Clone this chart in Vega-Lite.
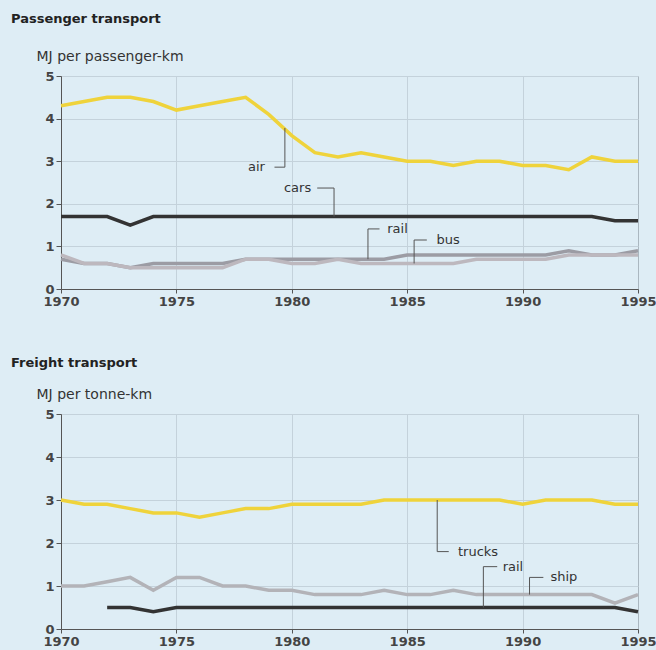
{
  "$schema": "https://vega.github.io/schema/vega-lite/v6.json",
  "background": "#deedf5",
  "padding": {"left": 10, "top": 12, "right": 5, "bottom": 5},
  "config": {
    "font": "DejaVu Sans",
    "view": {"stroke": "#aab7c0", "strokeWidth": 1},
    "axis": {
      "labelFont": "DejaVu Sans",
      "labelFontSize": 13,
      "labelFontWeight": "bold",
      "labelColor": "#444444",
      "labelFlush": false,
      "domainColor": "#555555",
      "tickColor": "#555555",
      "gridColor": "#c4d2db",
      "titleFont": "DejaVu Sans",
      "titleFontSize": 14,
      "titleFontWeight": "normal",
      "titleColor": "#333333"
    },
    "title": {"font": "DejaVu Sans", "fontSize": 13, "fontWeight": "bold", "color": "#222222", "anchor": "start"}
  },
  "resolve": {"scale": {"color": "independent"}},
  "spacing": 47,
  "datasets": {
    "years": [
      {"year":1971},{"year":1972},{"year":1973},{"year":1974},{"year":1976},{"year":1977},{"year":1978},{"year":1979},{"year":1981},{"year":1982},{"year":1983},{"year":1984},{"year":1986},{"year":1987},{"year":1988},{"year":1989},{"year":1991},{"year":1992},{"year":1993},{"year":1994}
    ],
    "passenger": [
      {"year":1970,"mode":"air","value":4.3},{"year":1971,"mode":"air","value":4.4},{"year":1972,"mode":"air","value":4.5},{"year":1973,"mode":"air","value":4.5},{"year":1974,"mode":"air","value":4.4},{"year":1975,"mode":"air","value":4.2},{"year":1976,"mode":"air","value":4.3},{"year":1977,"mode":"air","value":4.4},{"year":1978,"mode":"air","value":4.5},{"year":1979,"mode":"air","value":4.1},{"year":1980,"mode":"air","value":3.6},{"year":1981,"mode":"air","value":3.2},{"year":1982,"mode":"air","value":3.1},{"year":1983,"mode":"air","value":3.2},{"year":1984,"mode":"air","value":3.1},{"year":1985,"mode":"air","value":3.0},{"year":1986,"mode":"air","value":3.0},{"year":1987,"mode":"air","value":2.9},{"year":1988,"mode":"air","value":3.0},{"year":1989,"mode":"air","value":3.0},{"year":1990,"mode":"air","value":2.9},{"year":1991,"mode":"air","value":2.9},{"year":1992,"mode":"air","value":2.8},{"year":1993,"mode":"air","value":3.1},{"year":1994,"mode":"air","value":3.0},{"year":1995,"mode":"air","value":3.0},
      {"year":1970,"mode":"cars","value":1.7},{"year":1971,"mode":"cars","value":1.7},{"year":1972,"mode":"cars","value":1.7},{"year":1973,"mode":"cars","value":1.5},{"year":1974,"mode":"cars","value":1.7},{"year":1975,"mode":"cars","value":1.7},{"year":1976,"mode":"cars","value":1.7},{"year":1977,"mode":"cars","value":1.7},{"year":1978,"mode":"cars","value":1.7},{"year":1979,"mode":"cars","value":1.7},{"year":1980,"mode":"cars","value":1.7},{"year":1981,"mode":"cars","value":1.7},{"year":1982,"mode":"cars","value":1.7},{"year":1983,"mode":"cars","value":1.7},{"year":1984,"mode":"cars","value":1.7},{"year":1985,"mode":"cars","value":1.7},{"year":1986,"mode":"cars","value":1.7},{"year":1987,"mode":"cars","value":1.7},{"year":1988,"mode":"cars","value":1.7},{"year":1989,"mode":"cars","value":1.7},{"year":1990,"mode":"cars","value":1.7},{"year":1991,"mode":"cars","value":1.7},{"year":1992,"mode":"cars","value":1.7},{"year":1993,"mode":"cars","value":1.7},{"year":1994,"mode":"cars","value":1.6},{"year":1995,"mode":"cars","value":1.6},
      {"year":1970,"mode":"rail","value":0.7},{"year":1971,"mode":"rail","value":0.6},{"year":1972,"mode":"rail","value":0.6},{"year":1973,"mode":"rail","value":0.5},{"year":1974,"mode":"rail","value":0.6},{"year":1975,"mode":"rail","value":0.6},{"year":1976,"mode":"rail","value":0.6},{"year":1977,"mode":"rail","value":0.6},{"year":1978,"mode":"rail","value":0.7},{"year":1979,"mode":"rail","value":0.7},{"year":1980,"mode":"rail","value":0.7},{"year":1981,"mode":"rail","value":0.7},{"year":1982,"mode":"rail","value":0.7},{"year":1983,"mode":"rail","value":0.7},{"year":1984,"mode":"rail","value":0.7},{"year":1985,"mode":"rail","value":0.8},{"year":1986,"mode":"rail","value":0.8},{"year":1987,"mode":"rail","value":0.8},{"year":1988,"mode":"rail","value":0.8},{"year":1989,"mode":"rail","value":0.8},{"year":1990,"mode":"rail","value":0.8},{"year":1991,"mode":"rail","value":0.8},{"year":1992,"mode":"rail","value":0.9},{"year":1993,"mode":"rail","value":0.8},{"year":1994,"mode":"rail","value":0.8},{"year":1995,"mode":"rail","value":0.9},
      {"year":1970,"mode":"bus","value":0.8},{"year":1971,"mode":"bus","value":0.6},{"year":1972,"mode":"bus","value":0.6},{"year":1973,"mode":"bus","value":0.5},{"year":1974,"mode":"bus","value":0.5},{"year":1975,"mode":"bus","value":0.5},{"year":1976,"mode":"bus","value":0.5},{"year":1977,"mode":"bus","value":0.5},{"year":1978,"mode":"bus","value":0.7},{"year":1979,"mode":"bus","value":0.7},{"year":1980,"mode":"bus","value":0.6},{"year":1981,"mode":"bus","value":0.6},{"year":1982,"mode":"bus","value":0.7},{"year":1983,"mode":"bus","value":0.6},{"year":1984,"mode":"bus","value":0.6},{"year":1985,"mode":"bus","value":0.6},{"year":1986,"mode":"bus","value":0.6},{"year":1987,"mode":"bus","value":0.6},{"year":1988,"mode":"bus","value":0.7},{"year":1989,"mode":"bus","value":0.7},{"year":1990,"mode":"bus","value":0.7},{"year":1991,"mode":"bus","value":0.7},{"year":1992,"mode":"bus","value":0.8},{"year":1993,"mode":"bus","value":0.8},{"year":1994,"mode":"bus","value":0.8},{"year":1995,"mode":"bus","value":0.8}
    ],
    "freight": [
      {"year":1970,"mode":"trucks","value":3.0},{"year":1971,"mode":"trucks","value":2.9},{"year":1972,"mode":"trucks","value":2.9},{"year":1973,"mode":"trucks","value":2.8},{"year":1974,"mode":"trucks","value":2.7},{"year":1975,"mode":"trucks","value":2.7},{"year":1976,"mode":"trucks","value":2.6},{"year":1977,"mode":"trucks","value":2.7},{"year":1978,"mode":"trucks","value":2.8},{"year":1979,"mode":"trucks","value":2.8},{"year":1980,"mode":"trucks","value":2.9},{"year":1981,"mode":"trucks","value":2.9},{"year":1982,"mode":"trucks","value":2.9},{"year":1983,"mode":"trucks","value":2.9},{"year":1984,"mode":"trucks","value":3.0},{"year":1985,"mode":"trucks","value":3.0},{"year":1986,"mode":"trucks","value":3.0},{"year":1987,"mode":"trucks","value":3.0},{"year":1988,"mode":"trucks","value":3.0},{"year":1989,"mode":"trucks","value":3.0},{"year":1990,"mode":"trucks","value":2.9},{"year":1991,"mode":"trucks","value":3.0},{"year":1992,"mode":"trucks","value":3.0},{"year":1993,"mode":"trucks","value":3.0},{"year":1994,"mode":"trucks","value":2.9},{"year":1995,"mode":"trucks","value":2.9},
      {"year":1970,"mode":"ship","value":1.0},{"year":1971,"mode":"ship","value":1.0},{"year":1972,"mode":"ship","value":1.1},{"year":1973,"mode":"ship","value":1.2},{"year":1974,"mode":"ship","value":0.9},{"year":1975,"mode":"ship","value":1.2},{"year":1976,"mode":"ship","value":1.2},{"year":1977,"mode":"ship","value":1.0},{"year":1978,"mode":"ship","value":1.0},{"year":1979,"mode":"ship","value":0.9},{"year":1980,"mode":"ship","value":0.9},{"year":1981,"mode":"ship","value":0.8},{"year":1982,"mode":"ship","value":0.8},{"year":1983,"mode":"ship","value":0.8},{"year":1984,"mode":"ship","value":0.9},{"year":1985,"mode":"ship","value":0.8},{"year":1986,"mode":"ship","value":0.8},{"year":1987,"mode":"ship","value":0.9},{"year":1988,"mode":"ship","value":0.8},{"year":1989,"mode":"ship","value":0.8},{"year":1990,"mode":"ship","value":0.8},{"year":1991,"mode":"ship","value":0.8},{"year":1992,"mode":"ship","value":0.8},{"year":1993,"mode":"ship","value":0.8},{"year":1994,"mode":"ship","value":0.6},{"year":1995,"mode":"ship","value":0.8},
      {"year":1972,"mode":"rail","value":0.5},{"year":1973,"mode":"rail","value":0.5},{"year":1974,"mode":"rail","value":0.4},{"year":1975,"mode":"rail","value":0.5},{"year":1976,"mode":"rail","value":0.5},{"year":1977,"mode":"rail","value":0.5},{"year":1978,"mode":"rail","value":0.5},{"year":1979,"mode":"rail","value":0.5},{"year":1980,"mode":"rail","value":0.5},{"year":1981,"mode":"rail","value":0.5},{"year":1982,"mode":"rail","value":0.5},{"year":1983,"mode":"rail","value":0.5},{"year":1984,"mode":"rail","value":0.5},{"year":1985,"mode":"rail","value":0.5},{"year":1986,"mode":"rail","value":0.5},{"year":1987,"mode":"rail","value":0.5},{"year":1988,"mode":"rail","value":0.5},{"year":1989,"mode":"rail","value":0.5},{"year":1990,"mode":"rail","value":0.5},{"year":1991,"mode":"rail","value":0.5},{"year":1992,"mode":"rail","value":0.5},{"year":1993,"mode":"rail","value":0.5},{"year":1994,"mode":"rail","value":0.5},{"year":1995,"mode":"rail","value":0.4}
    ],
    "pLeaders": [
      {"year":1979.7,"value":3.78,"year2":1979.7,"value2":2.86},
      {"year":1979.25,"value":2.86,"year2":1979.7,"value2":2.86},
      {"year":1981.1,"value":2.37,"year2":1981.83,"value2":2.37},
      {"year":1981.83,"value":2.37,"year2":1981.83,"value2":1.7},
      {"year":1983.3,"value":1.41,"year2":1983.3,"value2":0.7},
      {"year":1983.3,"value":1.41,"year2":1983.8,"value2":1.41},
      {"year":1985.3,"value":1.15,"year2":1985.3,"value2":0.6},
      {"year":1985.3,"value":1.15,"year2":1985.85,"value2":1.15}
    ],
    "pLabels": [
      {"year":1978.47,"value":2.86,"label":"air"},
      {"year":1980.25,"value":2.37,"label":"cars"},
      {"year":1984.58,"value":1.41,"label":"rail"},
      {"year":1986.77,"value":1.15,"label":"bus"}
    ],
    "fLeaders": [
      {"year":1986.3,"value":3.0,"year2":1986.3,"value2":1.8},
      {"year":1986.3,"value":1.8,"year2":1986.8,"value2":1.8},
      {"year":1988.3,"value":1.45,"year2":1988.3,"value2":0.5},
      {"year":1988.3,"value":1.45,"year2":1988.9,"value2":1.45},
      {"year":1990.3,"value":1.2,"year2":1990.3,"value2":0.8},
      {"year":1990.3,"value":1.2,"year2":1990.9,"value2":1.2}
    ],
    "fLabels": [
      {"year":1988.07,"value":1.8,"label":"trucks"},
      {"year":1989.58,"value":1.45,"label":"rail"},
      {"year":1991.79,"value":1.2,"label":"ship"}
    ]
  },
  "vconcat": [
    {
      "title": {"text": "Passenger transport", "dx": -25, "offset": 23},
      "width": 577,
      "height": 213,
      "encoding": {
        "x": {"field": "year", "type": "quantitative", "scale": {"domain": [1970, 1995], "nice": false, "zero": false},
          "axis": {"title": null, "values": [1970,1975,1980,1985,1990,1995], "format": "d", "labelOverlap": false, "tickSize": 4,
            "gridOpacity": {"condition": {"test": "datum.value > 1970 && datum.value < 1995", "value": 1}, "value": 0}}},
        "y": {"field": "value", "type": "quantitative", "scale": {"domain": [0, 5], "nice": false},
          "axis": {"title": "MJ per passenger-km", "values": [0,1,2,3,4,5], "tickSize": 5, "titleAngle": 0, "titleAlign": "left", "titleBaseline": "middle", "titleX": -25, "titleY": -20}}
      },
      "layer": [
        {
          "data": {"name": "years"},
          "mark": {"type": "rule", "color": "#555555", "strokeWidth": 1},
          "encoding": {
            "y": {"datum": 0.08},
            "y2": {"datum": -0.08}
          }
        },
        {
          "data": {"name": "passenger"},
          "mark": {"type": "line", "strokeWidth": 3.5},
          "encoding": {
            "color": {"field": "mode", "type": "nominal", "scale": {"domain": ["air","cars","rail","bus"], "range": ["#efd33b","#333333","#9c9ca4","#bdb8be"]}, "legend": null},
            "order": {"field": "year", "type": "quantitative"}
          }
        },
        {
          "data": {"name": "pLeaders"},
          "mark": {"type": "rule", "color": "#555555", "strokeWidth": 1},
          "encoding": {
            "x2": {"field": "year2"},
            "y2": {"field": "value2"}
          }
        },
        {
          "data": {"name": "pLabels"},
          "mark": {"type": "text", "align": "center", "baseline": "middle", "fontSize": 13, "color": "#333333", "font": "DejaVu Sans"},
          "encoding": {
            "text": {"field": "label"}
          }
        }
      ]
    },
    {
      "title": {"text": "Freight transport", "dx": -25, "offset": 17},
      "width": 577,
      "height": 215,
      "encoding": {
        "x": {"field": "year", "type": "quantitative", "scale": {"domain": [1970, 1995], "nice": false, "zero": false},
          "axis": {"title": null, "values": [1970,1975,1980,1985,1990,1995], "format": "d", "labelOverlap": false, "tickSize": 4,
            "gridOpacity": {"condition": {"test": "datum.value > 1970 && datum.value < 1995", "value": 1}, "value": 0}}},
        "y": {"field": "value", "type": "quantitative", "scale": {"domain": [0, 5], "nice": false},
          "axis": {"title": "MJ per tonne-km", "values": [0,1,2,3,4,5], "tickSize": 5, "titleAngle": 0, "titleAlign": "left", "titleBaseline": "middle", "titleX": -25, "titleY": -20}}
      },
      "layer": [
        {
          "data": {"name": "years"},
          "mark": {"type": "rule", "color": "#555555", "strokeWidth": 1},
          "encoding": {
            "y": {"datum": 0.08},
            "y2": {"datum": -0.08}
          }
        },
        {
          "data": {"name": "freight"},
          "mark": {"type": "line", "strokeWidth": 3.5},
          "encoding": {
            "color": {"field": "mode", "type": "nominal", "scale": {"domain": ["trucks","ship","rail"], "range": ["#efd33b","#b3b3b8","#333333"]}, "legend": null},
            "order": {"field": "year", "type": "quantitative"}
          }
        },
        {
          "data": {"name": "fLeaders"},
          "mark": {"type": "rule", "color": "#555555", "strokeWidth": 1},
          "encoding": {
            "x2": {"field": "year2"},
            "y2": {"field": "value2"}
          }
        },
        {
          "data": {"name": "fLabels"},
          "mark": {"type": "text", "align": "center", "baseline": "middle", "fontSize": 13, "color": "#333333", "font": "DejaVu Sans"},
          "encoding": {
            "text": {"field": "label"}
          }
        }
      ]
    }
  ]
}
